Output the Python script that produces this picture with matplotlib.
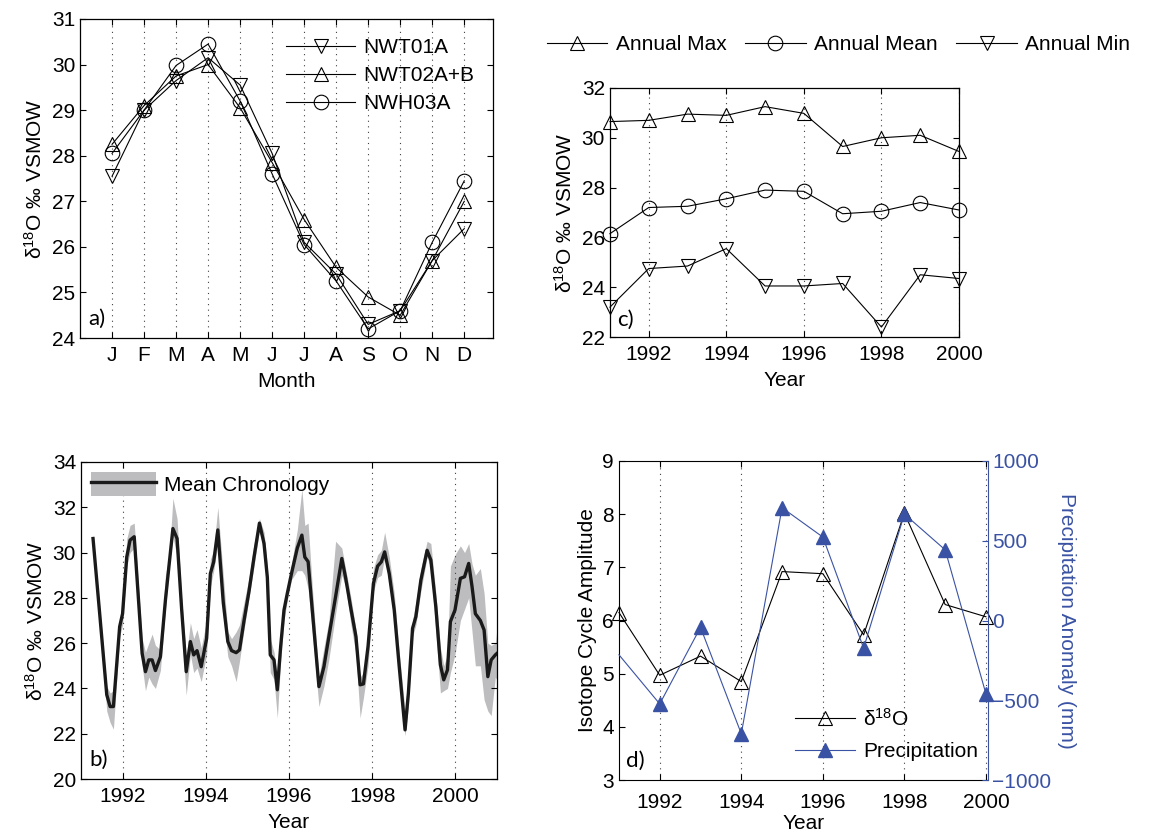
import matplotlib
matplotlib.use("Agg")
import matplotlib.pyplot as plt
from matplotlib.patches import Patch
from matplotlib.lines import Line2D
from matplotlib.legend_handler import HandlerTuple

plt.rcParams['font.family'] = ['Liberation Sans', 'DejaVu Sans']
plt.rcParams['mathtext.fontset'] = 'custom'
plt.rcParams['mathtext.rm'] = 'Liberation Sans'
plt.rcParams['mathtext.it'] = 'Liberation Sans'

# --- panel a: monthly climatology per core ---
months = list(range(1, 13))
month_labels = ['J', 'F', 'M', 'A', 'M', 'J', 'J', 'A', 'S', 'O', 'N', 'D']
nwt01a = [27.55, 29.0, 29.65, 30.15, 29.55, 28.05, 26.1, 25.4, 24.3, 24.6, 25.7, 26.4]
nwt02ab = [28.25, 29.1, 29.75, 30.0, 29.05, 27.85, 26.6, 25.55, 24.9, 24.5, 25.7, 27.0]
nwh03a = [28.05, 29.0, 29.98, 30.45, 29.2, 27.6, 26.05, 25.25, 24.2, 24.6, 26.1, 27.45]

# --- panel c: annual statistics ---
years = [1991, 1992, 1993, 1994, 1995, 1996, 1997, 1998, 1999, 2000]
ann_max = [30.65, 30.7, 30.95, 30.9, 31.25, 30.98, 29.65, 30.0, 30.1, 29.45]
ann_mean = [26.15, 27.2, 27.25, 27.55, 27.9, 27.85, 26.95, 27.05, 27.4, 27.1]
ann_min = [23.2, 24.75, 24.85, 25.55, 24.05, 24.05, 24.15, 22.4, 24.5, 24.35]

# --- panel d: cycle amplitude and precipitation anomaly ---
amplitude = [6.15, 4.97, 5.33, 4.85, 6.92, 6.88, 5.73, 8.02, 6.3, 6.07]
precip = [-215, -523, -43, -710, 707, 523, -173, 667, 443, -460]

# --- panel b: mean chronology with spread ---
chron_t = [1991.29, 1991.45, 1991.62, 1991.70, 1991.78, 1991.93, 1992.00, 1992.10, 1992.18, 1992.28,
           1992.47, 1992.55, 1992.63, 1992.71, 1992.79, 1992.91, 1993.03, 1993.13, 1993.21, 1993.31,
           1993.42, 1993.53, 1993.63, 1993.71, 1993.79, 1993.89, 1994.02, 1994.11, 1994.19, 1994.29,
           1994.42, 1994.53, 1994.62, 1994.73, 1994.81, 1994.92, 1995.04, 1995.16, 1995.29, 1995.40,
           1995.48, 1995.55, 1995.64, 1995.72, 1995.80, 1995.88, 1995.96, 1996.06, 1996.20, 1996.31,
           1996.38, 1996.46, 1996.56, 1996.72, 1996.84, 1996.96, 1997.12, 1997.27, 1997.36, 1997.49,
           1997.61, 1997.71, 1997.79, 1997.90, 1998.03, 1998.13, 1998.22, 1998.30, 1998.41, 1998.53,
           1998.65, 1998.79, 1998.87, 1998.97, 1999.05, 1999.17, 1999.32, 1999.41, 1999.53, 1999.64,
           1999.72, 1999.81, 1999.88, 1999.99, 2000.12, 2000.22, 2000.32, 2000.40, 2000.48, 2000.60,
           2000.69, 2000.78, 2000.86, 2000.96, 2001.02]
chron_mean = [30.62, 27.3, 23.72, 23.2, 23.2, 26.73, 27.3, 29.8, 30.55, 30.7,
              25.55, 24.74, 25.26, 25.26, 24.79, 25.4, 27.9, 29.66, 31.06, 30.62,
              27.5, 24.74, 26.07, 25.48, 25.67, 24.96, 26.2, 29.07, 29.59, 31.0,
              27.8, 26.07, 25.67, 25.58, 25.7, 27.0, 28.3, 29.8, 31.3, 30.4,
              28.9, 25.48, 25.26, 23.94, 25.85, 27.46, 28.2, 29.07, 30.2, 30.77,
              29.8, 29.6, 27.46, 24.08, 24.96, 26.3, 28.05, 29.74, 28.9, 27.5,
              26.29, 24.16, 24.2, 25.85, 28.64, 29.4, 29.59, 30.03, 29.07, 27.46,
              24.96, 22.17, 23.79, 26.65, 27.17, 28.78, 30.1, 29.67, 27.6, 25.04,
              24.38, 24.82, 26.95, 27.46, 28.86, 28.93, 29.52, 28.5, 27.3, 27.0,
              26.58, 24.52, 25.26, 25.48, 25.58]
chron_lo = [30.5, 27.0, 23.0, 22.5, 22.2, 26.3, 26.8, 29.4, 30.0, 30.2,
            25.0, 23.9, 24.5, 24.2, 24.0, 24.8, 27.5, 29.5, 30.7, 29.8,
            26.5, 23.7, 25.5, 24.7, 24.9, 24.3, 25.5, 28.5, 29.2, 30.4,
            27.2, 25.4, 25.0, 24.3, 25.2, 26.6, 28.0, 29.4, 31.0, 30.0,
            28.3, 24.7, 24.4, 22.7, 25.2, 27.0, 27.9, 28.8, 29.2, 29.2,
            29.0, 28.4, 26.5, 23.2, 24.1, 25.3, 27.3, 29.0, 28.5, 26.8,
            25.5, 22.7, 23.6, 25.0, 28.3, 28.9, 29.0, 29.8, 28.6, 27.0,
            24.5, 21.9, 23.2, 26.3, 26.8, 28.3, 29.8, 29.3, 26.5, 23.8,
            23.9, 24.0, 24.7, 25.5, 27.0, 27.5, 28.0, 26.5, 25.0, 25.0,
            23.5, 23.0, 22.8, 24.5, 24.3]
chron_hi = [30.8, 27.6, 24.1, 23.8, 23.9, 27.0, 27.6, 30.6, 31.2, 31.3,
            26.2, 25.6, 26.0, 26.4, 25.9, 25.7, 29.0, 30.0, 32.4, 31.5,
            28.0, 25.4, 26.9, 26.2, 26.6, 25.8, 27.0, 29.7, 30.1, 32.0,
            29.0, 26.5, 26.2, 26.5, 26.8, 27.8, 28.9, 30.4, 31.5, 30.9,
            29.4, 26.2, 25.6, 24.5, 26.2, 27.7, 28.5, 29.5, 31.0, 32.8,
            31.2, 31.3, 28.5, 24.5, 25.8, 27.0, 30.5, 30.2, 29.3, 28.0,
            26.6, 24.5, 24.7, 26.5, 29.3, 29.9, 30.1, 30.9, 29.8, 28.2,
            25.6, 23.0, 24.6, 27.0, 27.8, 29.3, 30.5, 30.4, 28.2, 25.8,
            25.0, 25.5, 29.4, 29.9, 30.3, 30.0, 30.4, 29.5, 29.0, 29.3,
            28.2, 26.0, 25.9, 26.0, 27.0]

BLUE = '#3A52A3'
FS = 15
ylab18 = 'δ$^{18}$O ‰ VSMOW'


def style(ax):
    ax.tick_params(direction='in', top=True, right=True, labelsize=FS, length=4, width=0.8)
    ax.tick_params(axis='x', pad=6)
    ax.grid(True, axis='x', linestyle=(0, (1, 4)), color='0.25', linewidth=0.8)
    for s in ax.spines.values():
        s.set_linewidth(0.9)


def panel_label(ax, txt):
    ax.text(0.02, 0.03, txt, transform=ax.transAxes, fontsize=FS + 1,
            family=['Lato', 'DejaVu Sans'], ha='left', va='bottom')


fig = plt.figure(figsize=(11.55, 8.33), dpi=100)

mk = dict(color='k', linewidth=0.8, markerfacecolor='none', markeredgecolor='k',
          markeredgewidth=0.8, markersize=10.5, clip_on=False)

# panel a
ax_a = fig.add_axes([0.0693, 0.5942, 0.3576, 0.383])
ax_a.plot(months, nwt01a, marker='v', label='NWT01A', **mk)
ax_a.plot(months, nwt02ab, marker='^', label='NWT02A+B', **mk)
ax_a.plot(months, nwh03a, marker='o', label='NWH03A', **mk)
ax_a.set_xlim(0, 12.9)
ax_a.set_ylim(24, 31)
ax_a.set_xticks(months)
ax_a.set_xticklabels(month_labels)
ax_a.set_xlabel('Month', fontsize=FS, labelpad=5)
ax_a.set_ylabel(ylab18, fontsize=FS)
style(ax_a)
ax_a.legend(loc='upper right', bbox_to_anchor=(0.99, 0.985), frameon=False, fontsize=FS,
            handlelength=3.3, handletextpad=0.4, labelspacing=0.42, borderaxespad=0.3)
panel_label(ax_a, 'a)')

# panel c
ax_c = fig.add_axes([0.5281, 0.5954, 0.3022, 0.299])
l1, = ax_c.plot(years, ann_max, marker='^', label='Annual Max', **mk)
l2, = ax_c.plot(years, ann_mean, marker='o', label='Annual Mean', **mk)
l3, = ax_c.plot(years, ann_min, marker='v', label='Annual Min', **mk)
ax_c.set_xlim(1991, 2000)
ax_c.set_ylim(22, 32)
ax_c.set_xticks([1992, 1994, 1996, 1998, 2000])
ax_c.set_yticks([22, 24, 26, 28, 30, 32])
ax_c.set_xlabel('Year', fontsize=FS, labelpad=5)
ax_c.set_ylabel(ylab18, fontsize=FS)
style(ax_c)
fig.legend(handles=[l1, l2, l3], loc='center', bbox_to_anchor=(0.726, 0.946), ncol=3,
           frameon=False, fontsize=FS, handlelength=2.9, handletextpad=0.4, columnspacing=0.9)
panel_label(ax_c, 'c)')

# panel b
ax_b = fig.add_axes([0.0701, 0.0648, 0.3602, 0.3806])
ax_b.fill_between(chron_t, chron_lo, chron_hi, color='#BDBDBF', linewidth=0)
ax_b.plot(chron_t, chron_mean, color='#1A1A1A', linewidth=2.4)
ax_b.set_xlim(1991, 2001)
ax_b.set_ylim(20, 34)
ax_b.set_xticks([1992, 1994, 1996, 1998, 2000])
ax_b.set_yticks([20, 22, 24, 26, 28, 30, 32, 34])
ax_b.set_xlabel('Year', fontsize=FS, labelpad=5)
ax_b.set_ylabel(ylab18, fontsize=FS)
style(ax_b)
h_band = Patch(facecolor='#BDBDBF', edgecolor='none')
h_line = Line2D([], [], color='#1A1A1A', linewidth=2.4)
ax_b.legend(handles=[(h_band, h_line)], labels=['Mean Chronology'],
            handler_map={tuple: HandlerTuple(ndivide=1, pad=0)},
            loc='upper left', frameon=False, fontsize=FS, handlelength=3.1,
            handleheight=1.35, handletextpad=0.4, borderaxespad=0.3, borderpad=0.2)
panel_label(ax_b, 'b)')

# panel d
ax_d = fig.add_axes([0.5359, 0.0636, 0.3195, 0.383])
ax_p = ax_d.twinx()
ld, = ax_d.plot(years, amplitude, marker='^', label='δ$^{18}$O', **mk)
lp, = ax_p.plot(years, precip, color=BLUE, linewidth=0.8, marker='^', markersize=10.5,
                markerfacecolor=BLUE, markeredgecolor=BLUE, markevery=list(range(1, len(years))),
                clip_on=False, label='Precipitation')
ax_d.set_xlim(1991, 2000.05)
ax_d.set_ylim(3, 9)
ax_p.set_ylim(-1000, 1000)
ax_d.set_xticks([1992, 1994, 1996, 1998, 2000])
ax_p.set_yticks([-1000, -500, 0, 500, 1000])
ax_d.set_xlabel('Year', fontsize=FS, labelpad=2)
ax_d.set_ylabel('Isotope Cycle Amplitude', fontsize=FS)
ax_d.tick_params(direction='in', top=True, right=False, labelsize=FS, length=4, width=0.8)
ax_d.tick_params(axis='x', pad=9)
ax_d.grid(True, axis='x', linestyle=(0, (1, 4)), color='0.25', linewidth=0.8)
ax_p.tick_params(direction='in', labelsize=FS, length=4, width=0.8, colors=BLUE, pad=3)
ax_p.set_ylabel('Precipitation Anomaly (mm)', fontsize=FS, color=BLUE, rotation=270, labelpad=18)
ax_d.spines['right'].set_visible(False)
ax_p.spines['right'].set_color(BLUE)
for s in ['left', 'top', 'bottom']:
    ax_p.spines[s].set_visible(False)
ax_p.legend(handles=[ld, lp], loc='lower left', bbox_to_anchor=(0.425, 0.0), frameon=False,
            fontsize=FS, handlelength=2.9, handletextpad=0.4, labelspacing=0.6)
panel_label(ax_d, 'd)')

fig.savefig('out.png', dpi=100)
